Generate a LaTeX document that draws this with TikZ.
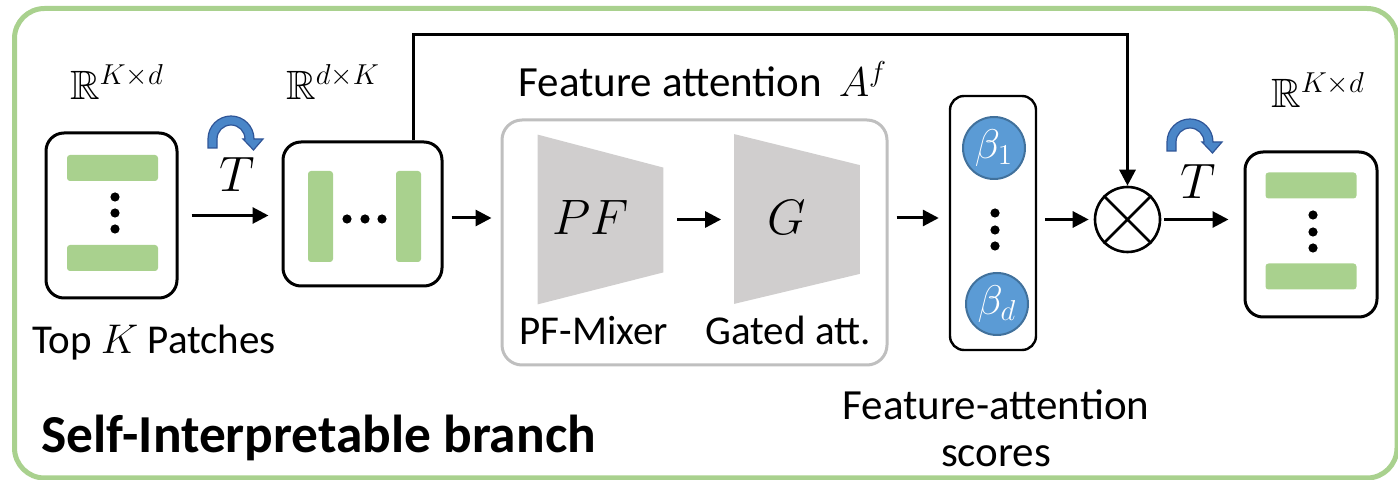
\documentclass[tikz,border=0pt]{standalone}
\usepackage{fontspec}
\usepackage{amssymb}
\setmainfont{Carlito}
\usetikzlibrary{arrows.meta,calc}

\definecolor{framegreen}{HTML}{A9D18E}
\definecolor{bargreen}{HTML}{A9D18E}
\definecolor{trapgray}{HTML}{D0CECE}
\definecolor{boxgray}{HTML}{BFBFBF}
\definecolor{betafill}{HTML}{5B9BD5}
\definecolor{betaline}{HTML}{41719C}
\definecolor{turnfill}{HTML}{4A86C8}
\definecolor{turnline}{HTML}{2F5597}

\tikzset{
  tile/.style={draw=black, line width=1.5pt, rounded corners=9pt, inner sep=0pt},
  hbar/.style={fill=bargreen, rounded corners=1.5pt, inner sep=0pt,
               minimum width=45.5pt, minimum height=13pt},
  vbar/.style={fill=bargreen, rounded corners=1.5pt, inner sep=0pt,
               minimum width=12.5pt, minimum height=45.5pt},
  dotmark/.style={circle, fill=black, inner sep=0pt, minimum size=4.6pt},
  arr/.style={line width=1.5pt, -{Triangle[length=8pt,width=8pt]}},
  lbl/.style={inner sep=0pt, font=\fontsize{20.5}{24}\selectfont},
  biglbl/.style={inner sep=0pt, font=\fontsize{21.5}{25}\selectfont},
  tlbl/.style={inner sep=0pt, font=\fontsize{25}{29}\selectfont},
  betanode/.style={circle, fill=betafill, draw=betaline, line width=1pt,
                   minimum size=31pt, inner sep=0pt, text=white,
                   font=\fontsize{22}{26}\selectfont},
  trapslot/.style={inner sep=0pt, minimum width=62.5pt, minimum height=84.5pt},
  turn/.pic={
    \path[fill=turnfill, draw=turnline, line width=0.6pt]
      (-23,-9) -- (-23,0) arc[start angle=180, end angle=0, radius=23]
      -- (32,0) -- (22.5,-11) -- (12,0) -- (14,0)
      arc[start angle=0, end angle=180, radius=14] -- (-14,-9) -- cycle;
  }
}

\begin{document}
\begin{tikzpicture}[x=0.5pt, y=0.5pt]
\useasboundingbox (0,0) rectangle (1398,-480);

% outer frame of the branch
\draw[framegreen, line width=2.5pt, rounded corners=15pt] (14.5,-8.5) rectangle (1397,-478);

% ---- input patches (K x d)
\node[lbl, anchor=base] (rin) at (117,-100) {$\mathbb{R}^{K\times d}$};
\node[tile, minimum width=65.5pt, minimum height=82.5pt] (in1) at (111.5,-215.5) {};
\node[hbar] (in1a) at (112.5,-168) {};
\node[hbar] (in1b) at (112.5,-258) {};
\node[dotmark] (in1d1) at (115,-197) {};
\node[dotmark] (in1d2) at (115,-213) {};
\node[dotmark] (in1d3) at (115,-229) {};
\node[lbl, anchor=base] (cap1) at (154,-354) {Top $K$ Patches};

% ---- transpose
\pic at (231,-139) {turn};
\node[tlbl, anchor=base] (t1) at (237,-192) {$T$};

% ---- transposed patches (d x K)
\node[lbl, anchor=base] (rtr) at (333,-100) {$\mathbb{R}^{d\times K}$};
\node[tile, minimum width=79.5pt, minimum height=72pt] (tr) at (362.5,-214) {};
\node[vbar] (tra) at (320.5,-216.5) {};
\node[vbar] (trb) at (408.5,-216.5) {};
\node[dotmark] (trd1) at (347,-219) {};
\node[dotmark] (trd2) at (365,-219) {};
\node[dotmark] (trd3) at (382,-219) {};

% ---- feature attention block
\node[biglbl, anchor=base] (fat) at (703,-97) {Feature attention\, $A^f$};
\node[draw=boxgray, line width=1.5pt, rounded corners=10pt, inner sep=0pt,
      minimum width=192.5pt, minimum height=122.5pt] (fa) at (694.5,-242.5) {};

\node[trapslot] (pfm) at (600.5,-219.5) {};
\node[trapslot] (gat) at (797,-219) {};
\fill[trapgray] (pfm.north west) -- ([yshift=-16.5pt]pfm.north east)
  -- ([yshift=16pt]pfm.south east) -- (pfm.south west) -- cycle;
\fill[trapgray] (gat.north west) -- ([yshift=-15.5pt]gat.north east)
  -- ([yshift=15pt]gat.south east) -- (gat.south west) -- cycle;
\node[tlbl] (pft) at (591,-218) {$PF$};
\node[tlbl] (gt) at (787,-218) {$G$};
\node[lbl, anchor=base] (pfl) at (594,-345) {PF-Mixer};
\node[lbl, anchor=base] (gl) at (788,-345) {Gated att.};

% ---- feature-attention scores
\node[tile, line width=1.2pt, rounded corners=7pt, minimum width=43pt,
      minimum height=127pt] (bb) at (993,-223) {};
\node[betanode] (b1) at (994,-148) {$\beta_1$};
\node[betanode] (bd) at (997,-304) {$\beta_d$};
\node[dotmark] (bbd1) at (995,-213) {};
\node[dotmark] (bbd2) at (995,-230) {};
\node[dotmark] (bbd3) at (995,-246) {};
\node[biglbl, anchor=base] (sc1) at (996,-420) {Feature-attention};
\node[biglbl, anchor=base] (sc2) at (996,-467) {scores};

% ---- element-wise product
\node[circle, draw, line width=1.3pt, minimum size=32.5pt, inner sep=0pt] (ot) at (1127.5,-219.5) {};
\draw[line width=1.3pt] (ot.north west) -- (ot.south east) (ot.north east) -- (ot.south west);

% ---- output patches (K x d)
\pic at (1190,-142) {turn};
\node[tlbl, anchor=base] (t2) at (1198,-199) {$T$};
\node[lbl, anchor=base] (rout) at (1318,-108) {$\mathbb{R}^{K\times d}$};
\node[tile, minimum width=66pt, minimum height=82.5pt] (out) at (1311,-234.5) {};
\node[hbar] (outa) at (1311,-185.5) {};
\node[hbar] (outb) at (1311,-276.5) {};
\node[dotmark] (outd1) at (1313,-215) {};
\node[dotmark] (outd2) at (1313,-232) {};
\node[dotmark] (outd3) at (1313,-248) {};

% ---- branch title
\node[inner sep=0pt, anchor=base west, font=\fontsize{26.7}{31}\selectfont\bfseries]
  (title) at (41,-453) {Self-Interpretable branch};

% ---- connectors
\coordinate (k) at (413,-35);
\draw[arr, shorten <=6.5pt, shorten >=6.5pt] (in1.east) -- (in1.east -| tr.west);
\draw[arr, shorten <=4pt, shorten >=4.5pt] (tr.east |- pft) -- (pft -| fa.west);
\draw[arr, shorten <=7pt, shorten >=6.5pt] (pfm.east) -- (pfm.east -| gat.west);
\draw[arr, shorten <=4pt, shorten >=5pt] (fa.east |- gt) -- (gt -| bb.west);
\draw[arr, shorten <=4pt, shorten >=2.5pt] (bb.east |- ot) -- (ot.west);
\draw[arr, shorten <=1.5pt, shorten >=7.5pt] (ot.east) -- (ot -| out.west);
\draw[arr] (tr.north -| k) -- (k) -| (ot.north);
\end{tikzpicture}
\end{document}
